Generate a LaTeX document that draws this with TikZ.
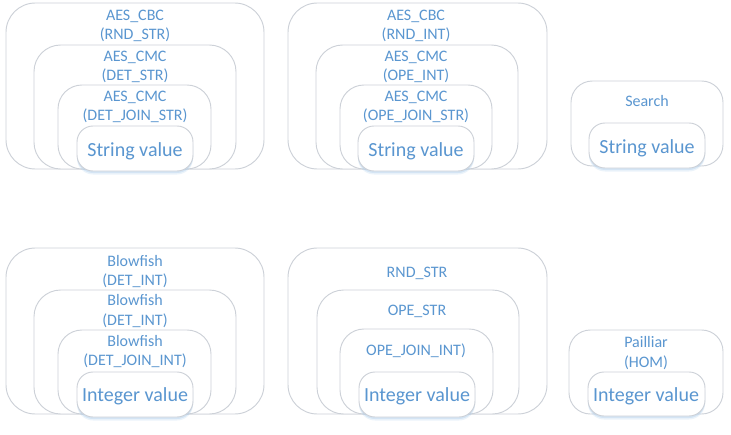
\documentclass[tikz,border=0pt]{standalone}
\usepackage{fontspec}
\setmainfont{Carlito}
\definecolor{txtblue}{HTML}{5A96D0}
\definecolor{boxgrey}{HTML}{CDD1D8}
\definecolor{glowblue}{HTML}{9DC3E6}
\tikzset{
  grp/.style={draw=boxgrey, line width=0.7pt, fill=white, rounded corners=#1},
  grp/.default=16,
  lbl/.style={text=txtblue, font=\fontsize{12pt}{14pt}\selectfont, anchor=base, inner sep=0pt},
  val/.style={text=txtblue, font=\fontsize{15pt}{17pt}\selectfont, anchor=base, inner sep=0pt},
  glow/.style={fill=glowblue, rounded corners=12, opacity=#1, draw=none},
}
\newcommand{\valbox}[4]{%
  \fill[glow=0.2] (#1,#2+4) rectangle (#3,#4+3.5);
  \fill[glow=0.3] (#1,#2+2) rectangle (#3,#4+2);
  \draw[grp=12] (#1,#2) rectangle (#3,#4);
}
\begin{document}
\begin{tikzpicture}[x=0.75pt,y=-0.75pt]
\useasboundingbox (0,0) rectangle (731,435);
% ---------- top left ----------
\draw[grp=22] (6,3) rectangle (264,169);
\draw[grp=20] (34,45) rectangle (236,169);
\draw[grp=18] (58,85) rectangle (211,169);
\valbox{77}{126}{193}{171}
\node[lbl] (tl1) at (135,21) {AES\_CBC};
\node[lbl] (tl2) at (135,40) {(RND\_STR)};
\node[lbl] (tl3) at (135,61) {AES\_CMC};
\node[lbl] (tl4) at (135,80) {(DET\_STR)};
\node[lbl] (tl5) at (135,101) {AES\_CMC};
\node[lbl] (tl6) at (135,120) {(DET\_JOIN\_STR)};
\node[val] (tlv) at (135,156) {String value};
% ---------- top middle ----------
\draw[grp=22] (288,3) rectangle (547,169);
\draw[grp=20] (316,45) rectangle (518,169);
\draw[grp=18] (340,85) rectangle (492,169);
\valbox{358}{126}{474}{171}
\node[lbl] (tm1) at (416,21) {AES\_CBC};
\node[lbl] (tm2) at (416,40) {(RND\_INT)};
\node[lbl] (tm3) at (416,61) {AES\_CMC};
\node[lbl] (tm4) at (416,80) {(OPE\_INT)};
\node[lbl] (tm5) at (416,101) {AES\_CMC};
\node[lbl] (tm6) at (416,120) {(OPE\_JOIN\_STR)};
\node[val] (tmv) at (416,156) {String value};
% ---------- top right ----------
\draw[grp=16] (571,81) rectangle (723,166);
\valbox{589}{123}{705}{168}
\node[lbl] (tr1) at (647,106) {Search};
\node[val] (trv) at (647,153) {String value};
% ---------- bottom left ----------
\draw[grp=22] (6,248) rectangle (264,414);
\draw[grp=20] (34,290) rectangle (236,414);
\draw[grp=18] (58,330) rectangle (211,414);
\valbox{77}{372}{193}{417}
\node[lbl] (bl1) at (135,266) {Blowfish};
\node[lbl] (bl2) at (135,285) {(DET\_INT)};
\node[lbl] (bl3) at (135,305) {Blowfish};
\node[lbl] (bl4) at (135,325) {(DET\_INT)};
\node[lbl] (bl5) at (135,346) {Blowfish};
\node[lbl] (bl6) at (135,365) {(DET\_JOIN\_INT)};
\node[val] (blv) at (135,401) {Integer value};
% ---------- bottom middle ----------
\draw[grp=22] (288,248) rectangle (547,414);
\draw[grp=20] (317,290) rectangle (519,414);
\draw[grp=18] (340,329) rectangle (493,414);
\valbox{359}{372}{475}{417}
\node[lbl] (bm1) at (417,277) {RND\_STR};
\node[lbl] (bm2) at (417,315) {OPE\_STR};
\node[lbl] (bm3) at (416,355) {OPE\_JOIN\_INT)};
\node[val] (bmv) at (417,401) {Integer value};
% ---------- bottom right ----------
\draw[grp=16] (569,330) rectangle (723,414);
\valbox{588}{372}{705}{416}
\node[lbl] (br1) at (646,347) {Pailliar};
\node[lbl] (br2) at (646,367) {(HOM)};
\node[val] (brv) at (646,401) {Integer value};
\end{tikzpicture}
\end{document}
